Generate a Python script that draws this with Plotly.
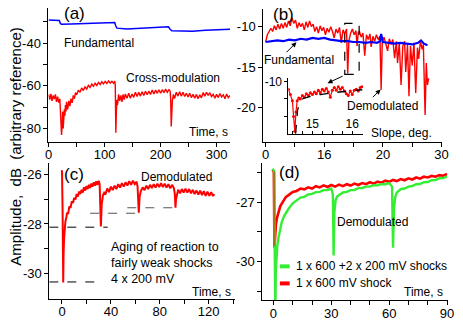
import plotly.graph_objects as go

W, H = 463, 326

# ---------------- DATA ----------------
# (a) Fundamental and cross-modulation vs time
a_fund_t = [0, 10, 19, 21, 23, 40, 60, 80, 100, 118, 120, 122, 140, 160, 180, 200, 214, 217, 220, 240, 257, 280, 300, 325]
a_fund_v = [-29.2, -29.3, -29.4, -30.8, -31.2, -31.0, -30.8, -30.6, -30.5, -30.4, -32.0, -33.0, -33.4, -33.2, -33.0, -32.8, -32.4, -33.5, -34.2, -34.3, -34.5, -34.0, -33.8, -33.5]

a_cross_t = [0, 2, 4, 6, 8, 10, 12, 14, 16, 18, 20, 21, 22, 23, 24, 25, 26, 27, 28, 29, 30, 31, 32, 34, 36, 38, 40, 42, 44, 46, 48, 50,
             53, 56, 59, 62, 65, 68, 71, 74, 77, 80, 83, 86, 89, 92, 95, 98, 101, 104, 107, 110, 113, 116, 118, 119, 120, 121, 122, 123,
             125, 127, 129, 131, 133, 135, 137, 140, 143, 146, 149, 152, 155, 158, 161, 164, 167, 170, 173, 176, 179, 182, 185, 188, 191,
             194, 197, 200, 203, 206, 209, 212, 215, 217, 218, 219, 220, 221, 223, 225, 228, 231, 234, 237, 240, 243, 246, 249, 252, 255,
             258, 261, 264, 267, 270, 273, 276, 279, 282, 285, 288, 291, 294, 297, 300, 303, 306, 309, 312, 315, 318, 321, 324]
a_cross_v = [-64.0, -66.5, -63.8, -67.0, -64.5, -66.2, -64.0, -67.5, -65.0, -67.8, -66.0, -70.0, -74.0, -83.0, -79.0, -72.0, -80.0, -77.0, -71.0, -74.0, -69.0, -72.0, -67.5, -71.0, -67.0, -69.5, -66.0, -68.0, -64.5, -66.0, -63.2, -64.2,
             -62.0, -63.0, -61.0, -62.2, -60.5, -61.5, -59.8, -60.8, -59.2, -60.2, -58.8, -59.8, -58.4, -59.4, -58.1, -59.1, -57.9, -58.9, -57.7, -58.7, -57.9, -58.8, -57.8, -59.5, -82.0, -72.0, -66.5, -69.0,
             -64.0, -67.0, -64.5, -67.5, -64.0, -66.5, -63.8, -65.8, -63.5, -65.8, -63.8, -65.4, -63.0, -65.0, -63.0, -64.8, -62.8, -64.5, -62.5, -64.2, -62.5, -64.0, -62.0, -63.8, -62.0,
             -63.5, -61.8, -63.4, -61.8, -63.2, -61.5, -63.0, -61.8, -62.5, -66.0, -79.0, -72.0, -67.0, -64.0, -66.0, -63.0, -64.8, -62.8, -64.8, -63.0, -65.0, -63.5, -65.2, -63.5, -65.5,
             -64.0, -65.8, -64.0, -66.0, -64.2, -65.6, -63.2, -64.8, -63.0, -64.5, -63.2, -65.0, -64.0, -65.8, -64.0, -65.5, -63.6, -65.2, -64.2, -66.0, -63.8, -65.5, -64.5]

# (b) Fundamental and demodulated vs slope
b_fund_t = [0, 1, 2, 3, 4, 5, 6, 7, 8, 9, 10, 11, 12, 13, 14, 15, 16, 17, 18, 19, 19.5, 19.7, 20, 21, 22, 23, 24, 25, 26, 26.5, 27, 27.6]
b_fund_v = [-11.9, -11.8, -11.7, -11.8, -11.6, -11.7, -11.5, -11.6, -11.4, -11.5, -11.4, -11.6, -11.7, -11.8, -11.8, -11.9, -11.9, -12.0, -11.9, -12.0, -11.8, -10.9, -11.9, -12.0, -12.1, -12.0, -12.1, -12.2, -12.0, -11.7, -12.1, -12.3]

b_dem_t = [0.0, 0.3, 0.6, 0.9, 1.2, 1.5, 1.8, 2.1, 2.4, 2.7, 3.0, 3.3, 3.6, 3.9, 4.2, 4.5, 4.8, 5.1, 5.4, 5.7, 6.0, 6.3, 6.6, 6.9,
           7.2, 7.5, 7.8, 8.1, 8.4, 8.7, 9.0, 9.3, 9.6, 9.9, 10.2, 10.5, 10.8, 11.1, 11.4, 11.7, 12.0, 12.3, 12.6, 12.9, 13.2,
           13.5, 13.8, 14.0, 14.2, 14.5, 14.8, 15.1, 15.4, 15.6, 15.8, 16.0, 16.3, 16.6, 16.9, 17.2, 17.5, 17.8, 18.0, 18.3, 18.6,
           18.9, 19.2, 19.5, 19.7, 19.9, 20.2, 20.5, 20.8, 21.1, 21.4, 21.7, 22.0, 22.3, 22.5, 22.8, 23.1, 23.4, 23.7, 23.9, 24.2,
           24.45, 24.7, 25.0, 25.3, 25.6, 25.9, 26.1, 26.4, 26.7, 26.9, 27.2, 27.4, 27.6, 27.8]
b_dem_v = [-11.9, -11.0, -10.6, -10.2, -10.6, -9.9, -10.4, -9.7, -10.3, -9.6, -10.2, -9.5, -10.1, -9.3, -9.9, -8.9, -9.6, -9.2, -10.2, -9.5, -10.0, -9.6, -10.4, -9.4,
           -10.1, -9.3, -10.0, -9.7, -10.6, -10.0, -10.8, -9.9, -10.5, -10.1, -11.0, -10.2, -10.7, -10.0, -10.6, -11.4, -10.3, -10.8, -10.1, -12.0, -10.4,
           -10.9, -10.3, -15.8, -11.8, -10.8, -10.3, -11.0, -10.5, -12.4, -10.7, -10.6, -11.3, -10.8, -13.6, -11.0, -11.6, -10.9, -12.5, -11.2, -11.8,
           -11.0, -11.6, -11.2, -17.8, -11.8, -11.3, -12.0, -13.0, -11.5, -12.2, -11.6, -13.9, -11.8, -14.5, -12.0, -17.2, -12.4, -11.8, -15.6, -12.2,
           -18.6, -12.4, -14.8, -12.0, -18.2, -12.6, -14.0, -11.8, -12.8, -12.2, -20.9, -14.5, -17.2, -16.4]

# (b) inset: zoom around one shock
inset_t = [14.40, 14.45, 14.50, 14.53, 14.56, 14.59, 14.62, 14.66, 14.70, 14.75, 14.80, 14.85, 14.90, 14.95, 15.00, 15.05, 15.10,
           15.15, 15.20, 15.25, 15.30, 15.35, 15.40, 15.45, 15.50, 15.55, 15.60, 15.65, 15.70, 15.75, 15.80, 15.85, 15.90, 15.95,
           16.00, 16.05, 16.10, 16.15, 16.20, 16.24]
inset_v = [-10.9, -11.5, -12.2, -14.0, -15.7, -13.5, -12.2, -11.9, -12.0, -11.6, -11.8, -11.4, -11.6, -11.3, -11.5, -11.2, -11.4,
           -11.0, -11.3, -10.9, -11.1, -10.8, -11.2, -11.8, -11.0, -10.7, -11.0, -10.6, -10.9, -10.7, -11.1, -11.4, -11.6, -11.1,
           -11.5, -11.0, -10.9, -11.1, -10.7, -10.6]
inset_fit_t = [14.58, 14.60, 14.63, 14.67, 14.72, 14.80, 14.90, 15.00, 15.20, 15.40, 15.60, 15.80, 16.00, 16.25]
inset_fit_v = [-16.0, -14.8, -13.3, -12.5, -12.1, -11.9, -11.75, -11.65, -11.5, -11.35, -11.25, -11.15, -11.05, -10.95]

# (c) Demodulated, 4 weak shocks
c_t = [-0.3, 0.0, 0.5, 1.0, 1.3, 1.7, 2.2, 2.8, 3.5, 4.2, 5.0, 6, 7, 8, 9, 10, 11, 12, 13, 14, 15, 16, 17, 18, 19, 20, 21, 22, 23, 24,
       25, 26, 27, 28, 29, 30, 30.8, 31.3, 31.8, 32.5, 33.5, 34.5, 35.5, 37, 38.5, 40, 41.5, 43, 44.5, 46, 47.5, 49, 50.5, 52, 53.5,
       55, 56.5, 58, 59.5, 61, 61.8, 62.3, 62.8, 63.5, 64.5, 66, 67.5, 69, 70.5, 72, 73.5, 75, 76.5, 78, 79.5, 81, 82.5, 84, 85.5, 87,
       88.5, 90, 91.5, 92.3, 92.8, 93.3, 94, 95, 96.5, 98, 99.5, 101, 102.5, 104, 105.5, 107, 108.5, 110, 111.5, 113, 114.5, 116,
       117.5, 119, 120.5, 122, 123.5, 124.6]
c_v = [-25.9, -25.85, -27.5, -30.35, -29.2, -28.6, -28.2, -27.9, -27.75, -27.55, -27.6, -27.3, -27.35, -27.1, -27.15, -26.95, -27.02,
       -26.8, -26.9, -26.7, -26.8, -26.63, -26.74, -26.53, -26.66, -26.48, -26.6, -26.43, -26.56, -26.38, -26.5, -26.33, -26.46, -26.29,
       -26.43, -26.27, -26.4, -27.2, -28.1, -27.2, -26.85, -26.75, -26.82, -26.58, -26.72, -26.5, -26.64, -26.46, -26.6, -26.4, -26.54,
       -26.36, -26.5, -26.33, -26.46, -26.28, -26.43, -26.26, -26.4, -26.3, -26.5, -27.0, -27.55, -26.9, -26.68, -26.53, -26.64, -26.46,
       -26.6, -26.43, -26.56, -26.4, -26.54, -26.38, -26.52, -26.36, -26.52, -26.38, -26.54, -26.4, -26.57, -26.43, -26.56, -26.8,
       -27.35, -27.0, -26.8, -26.63, -26.77, -26.6, -26.74, -26.58, -26.74, -26.6, -26.77, -26.63, -26.8, -26.66, -26.82, -26.66,
       -26.84, -26.68, -26.87, -26.7, -26.87, -26.72, -26.88, -26.8]

# (d) Demodulated: one strong shock vs strong + 2 weak
d_red_t = [-0.5, 0.2, 0.5, 0.9, 1.3, 1.8, 2.5, 3.5, 5.0, 6.5, 8, 10, 12, 14, 16, 18, 20, 22, 24, 26, 28, 30, 32, 34, 36, 38, 40, 42,
           44, 46, 48, 50, 52, 54, 56, 58, 60, 62, 64, 66, 68, 70, 72, 74, 76, 78, 80, 82, 84, 86, 88, 90]
d_red_v = [-25.35, -25.45, -29.3, -28.6, -28.1, -27.8, -27.5, -27.2, -26.95, -26.72, -26.62, -26.47, -26.42, -26.3, -26.34, -26.24,
           -26.3, -26.18, -26.24, -26.14, -26.22, -26.12, -26.2, -26.1, -26.18, -26.08, -26.15, -26.05, -26.12, -26.02, -26.08, -25.98,
           -26.05, -25.95, -26.0, -25.9, -25.96, -25.86, -25.92, -25.82, -25.88, -25.78, -25.84, -25.74, -25.8, -25.7, -25.74, -25.66,
           -25.7, -25.62, -25.65, -25.56]
d_grn_t = [-0.5, 0.3, 0.6, 0.8, 1.0, 1.2, 1.5, 2.0, 2.6, 3.4, 4.3, 5.5, 6.8, 8, 10, 12, 14, 16, 18, 20, 22, 24, 26, 28, 30, 30.8,
           31.2, 31.6, 32.2, 33, 34, 36, 38, 40, 42, 44, 46, 48, 50, 52, 54, 56, 58, 60, 61.5, 62, 62.5, 63.2, 64, 66, 68, 70, 72,
           74, 76, 78, 80, 82, 84, 86, 88, 90]
d_grn_v = [-25.3, -25.4, -29.0, -32.5, -32.5, -30.5, -29.8, -29.2, -28.8, -28.4, -28.0, -27.7, -27.45, -27.3, -27.05, -26.92, -26.76,
           -26.72, -26.6, -26.57, -26.48, -26.47, -26.38, -26.37, -26.3, -26.6, -29.7, -27.5, -26.9, -26.7, -26.62, -26.5, -26.47, -26.38,
           -26.37, -26.28, -26.27, -26.2, -26.2, -26.13, -26.14, -26.08, -26.08, -26.02, -26.2, -29.3, -27.3, -26.7, -26.5, -26.33,
           -26.3, -26.2, -26.17, -26.08, -26.07, -25.98, -25.97, -25.88, -25.87, -25.78, -25.77, -25.7]
d_overlap_t = [0.4, 0.4]
d_overlap_v = [-25.45, -29.2]

RED = "#ff0000"
BLUE = "#0000ff"
GREEN = "#33ee33"
FONT = "Liberation Sans, Arial, sans-serif"

def px(x):
    return x / W

def py(y):
    return 1 - y / H

fig = go.Figure()

fig.add_trace(go.Scatter(x=a_fund_t, y=a_fund_v, mode="lines", line=dict(color=BLUE, width=1.5), xaxis="x", yaxis="y"))
fig.add_trace(go.Scatter(x=a_cross_t, y=a_cross_v, mode="lines", line=dict(color=RED, width=1.4), xaxis="x", yaxis="y"))

fig.add_trace(go.Scatter(x=b_dem_t, y=b_dem_v, mode="lines", line=dict(color=RED, width=1.4), xaxis="x2", yaxis="y2"))
fig.add_trace(go.Scatter(x=b_fund_t, y=b_fund_v, mode="lines", line=dict(color=BLUE, width=2.2), xaxis="x2", yaxis="y2"))

fig.add_trace(go.Scatter(x=inset_t, y=inset_v, mode="lines+markers", line=dict(color=RED, width=1.2),
                         marker=dict(color=RED, size=3), xaxis="x5", yaxis="y5"))
fig.add_trace(go.Scatter(x=inset_fit_t, y=inset_fit_v, mode="lines", line=dict(color="black", width=1.3, dash="dash"),
                         xaxis="x5", yaxis="y5"))

fig.add_trace(go.Scatter(x=c_t, y=c_v, mode="lines", line=dict(color=RED, width=2.0), xaxis="x3", yaxis="y3"))

fig.add_trace(go.Scatter(x=d_red_t, y=d_red_v, mode="lines", line=dict(color=RED, width=2.6), xaxis="x4", yaxis="y4"))
fig.add_trace(go.Scatter(x=d_grn_t, y=d_grn_v, mode="lines", line=dict(color=GREEN, width=2.4), xaxis="x4", yaxis="y4"))
fig.add_trace(go.Scatter(x=d_overlap_t, y=d_overlap_v, mode="lines", line=dict(color="#9a7a10", width=2), xaxis="x4", yaxis="y4"))


def axis(domain, rng, tickvals, ticktext, anchor, **kw):
    d = dict(domain=domain, range=rng, tickmode="array", tickvals=tickvals, ticktext=ticktext, anchor=anchor,
             showline=True, linecolor="black", linewidth=1, ticks="outside", ticklen=4, tickcolor="black", tickwidth=1,
             showgrid=False, zeroline=False, tickfont=dict(size=13, color="black", family=FONT), fixedrange=True)
    d.update(kw)
    return d

XKW = dict(ticklabelstandoff=-3)

layout = dict(
    width=W, height=H, margin=dict(l=0, r=0, t=0, b=0), autosize=False,
    paper_bgcolor="white", plot_bgcolor="rgba(0,0,0,0)", showlegend=False,
    font=dict(family=FONT, size=12, color="black"),
    xaxis=axis([px(46.5), px(232)], [-0.3, 324], [0, 50, 100, 150, 200, 250, 300], ["0", "", "100", "", "200", "", "300"], "y", **XKW),
    yaxis=axis([py(143), py(5)], [-86.1, -23.5], [-30, -40, -50, -60, -70, -80], ["", "-40", "", "-60", "", "-80"], "x"),
    xaxis2=axis([px(266), px(448.5)], [-0.4, 30.05], [0, 5, 10, 15, 20, 25, 30], ["0", "", "16", "", "20", "", "30"], "y2", **XKW),
    yaxis2=axis([py(143), py(6)], [-24.2, -7.8], [-10, -15, -20], ["-10", "-15", "-20"], "x2"),
    xaxis3=axis([px(47.3), px(237)], [-10.4, 141.4], [0, 20, 40, 60, 80, 100, 120, 140], ["0", "", "40", "", "80", "", "120", ""], "y3", **XKW),
    yaxis3=axis([py(305), py(165)], [-31.0, -25.55], [-26, -27, -28, -29, -30], ["-26", "", "-28", "", "-30"], "x3"),
    xaxis4=axis([px(265), px(455)], [-5.8, 90.6], [0, 10, 20, 30, 40, 50, 60, 70, 80, 90], ["0", "", "", "30", "", "", "60", "", "", "90"], "y4", **XKW),
    yaxis4=axis([py(306.7), py(165)], [-31.97, -25.0], [-25.5, -27, -28.5, -30, -31.5], ["", "-27", "", "-30", ""], "x4"),
    xaxis5=axis([px(291.7), px(368)], [14.4, 16.27], [14.5, 14.75, 15, 15.25, 15.5, 15.75, 16, 16.25], ["", "", "15", "", "", "", "16", ""], "y5",
                ticks="inside", ticklen=3, ticklabelposition="inside", tickfont=dict(size=12, color="black", family=FONT)),
    yaxis5=axis([py(135), py(77.3)], [-16, -9.6], [-10, -12, -14, -16], ["-10", "", "", "-16"], "x5",
                ticklen=3, tickfont=dict(size=12, color="black", family=FONT)),
)

def txt(x, y, s, size=12, xanchor="center", **kw):
    d = dict(x=px(x), y=py(y), xref="paper", yref="paper", text=s, showarrow=False, xanchor=xanchor, yanchor="middle",
             font=dict(size=size, color="black", family=FONT))
    d.update(kw)
    return d

def arrow(hx, hy, tx, ty):
    return dict(x=px(hx), y=py(hy), xref="paper", yref="paper", text="", showarrow=True, ax=tx - hx, ay=ty - hy,
                arrowhead=2, arrowsize=1.0, arrowwidth=1, arrowcolor="black")

annotations = [
    txt(13, 148.5, "Amplitude,\u00a0\u00a0dB\u00a0\u00a0(arbitrary reference)", size=15, textangle=-90),
    txt(73, 11, "(a)", size=17),
    txt(98, 41, "Fundamental"),
    txt(173.5, 77.5, "Cross-modulation"),
    txt(232, 133, "Time, s", xanchor="right"),
    txt(286.5, 11.5, "(b)", size=17),
    txt(302.5, 59, "Fundamental"),
    txt(387.5, 106, "Demodulated"),
    txt(441, 134, "Slope, deg.", xanchor="right"),
    txt(72.5, 176.5, "(c)", size=17),
    txt(177.5, 179, "Demodulated"),
    txt(108, 252, "Aging of reaction to", size=12.5, xanchor="left"),
    txt(108, 268.5, "fairly weak shocks", size=12.5, xanchor="left"),
    txt(108, 285, "4 x 200 mV", size=12.5, xanchor="left"),
    txt(235, 298, "Time, s", xanchor="right"),
    txt(293, 175, "(d)", size=17),
    txt(377.5, 226, "Demodulated"),
    txt(297, 271.7, "1 x 600 +2 x 200 mV shocks", xanchor="left"),
    txt(297, 289.3, "1 x 600 mV shock", xanchor="left"),
    txt(452, 298, "Time, s", xanchor="right"),
    arrow(300, 40.5, 288.5, 52),
    arrow(331.7, 82.7, 348.3, 75),
    arrow(386, 89.3, 376.7, 98.3),
]

# dashed guide lines in (c): [x0, x1, y, colour]
c_guides = [(-10.4, 31.8, -30.33, "black"), (-10.4, 37.4, -28.13, "black"), (23, 67, -27.57, "#555555"), (53.4, 97.4, -27.35, "#555555")]
shapes = []
for x0, x1, yv, col in c_guides:
    shapes.append(dict(type="line", xref="x3", yref="y3", x0=x0, x1=x1, y0=yv, y1=yv,
                       line=dict(color=col, width=1, dash="dash")))
# dashed box in (b)
shapes.append(dict(type="rect", xref="x2", yref="y2", x0=13.5, x1=15.95, y0=-15.9, y1=-9.6,
                   line=dict(color="black", width=1.2, dash="dash")))
# legend samples in (d)
shapes.append(dict(type="line", xref="paper", yref="paper", x0=px(283), x1=px(293), y0=py(271.7), y1=py(271.7),
                   line=dict(color=GREEN, width=4)))
shapes.append(dict(type="line", xref="paper", yref="paper", x0=px(283), x1=px(293), y0=py(289.3), y1=py(289.3),
                   line=dict(color=RED, width=4)))

layout["annotations"] = annotations
layout["shapes"] = shapes
fig.update_layout(**layout)
fig.write_html("out.html", config={"displayModeBar": False, "staticPlot": True},
               post_script="document.body.style.margin='0';document.body.style.overflow='hidden';")
